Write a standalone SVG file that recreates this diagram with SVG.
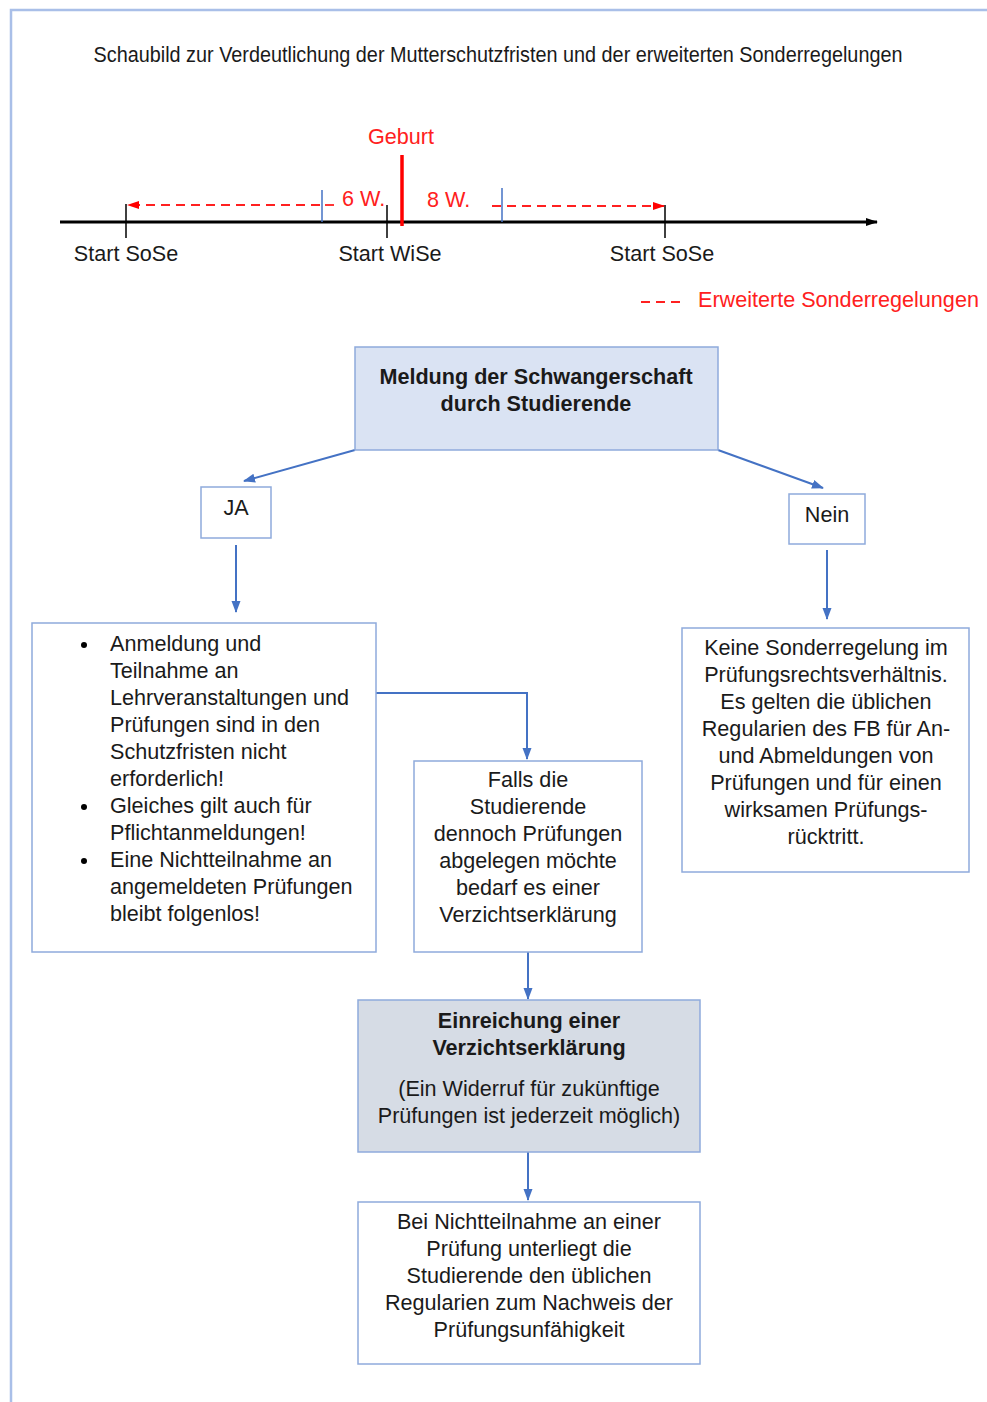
<svg xmlns="http://www.w3.org/2000/svg" width="987" height="1402" viewBox="0 0 987 1402">
<defs>
<marker id="ab" markerWidth="12" markerHeight="12" refX="11" refY="6" orient="auto" markerUnits="userSpaceOnUse"><path d="M0,1.5 L12,6 L0,10.5 z" fill="#4472c4"/></marker>
<marker id="ar" markerWidth="12" markerHeight="10" refX="11" refY="5" orient="auto" markerUnits="userSpaceOnUse"><path d="M0,1 L12,5 L0,9 z" fill="#ff0000"/></marker>
<marker id="ak" markerWidth="12" markerHeight="10" refX="11" refY="5" orient="auto" markerUnits="userSpaceOnUse"><path d="M0,1 L12,5 L0,9 z" fill="#000"/></marker>
<style>
text{font-family:"Liberation Sans",Arial,sans-serif;font-size:21.6px;fill:#1a1a1a}
.c{text-anchor:middle}
.b{font-weight:bold}
.r{fill:#ff2020}
.box{fill:#fff;stroke:#8faadc;stroke-width:1.5}
.con{stroke:#4472c4;stroke-width:2;fill:none}
</style>
</defs>
<g id="frame"><path d="M11,1402 V10 H987" fill="none" stroke="#a9bfe8" stroke-width="2.5"/></g>
<text id="title" x="498" y="62" class="c" font-size="18" textLength="809" lengthAdjust="spacingAndGlyphs">Schaubild zur Verdeutlichung der Mutterschutzfristen und der erweiterten Sonderregelungen</text>
<g id="timeline">
<line x1="60" y1="222" x2="877" y2="222" stroke="#000" stroke-width="3" marker-end="url(#ak)"/>
<line x1="126" y1="204" x2="126" y2="238" stroke="#000" stroke-width="1.5"/>
<line x1="387" y1="205" x2="387" y2="238" stroke="#000" stroke-width="1.5"/>
<line x1="665" y1="205" x2="665" y2="238" stroke="#000" stroke-width="1.5"/>
<line x1="322" y1="190" x2="322" y2="222" stroke="#4472c4" stroke-width="1.5"/>
<line x1="502" y1="188" x2="502" y2="222" stroke="#4472c4" stroke-width="1.5"/>
<line x1="402" y1="155" x2="402" y2="226" stroke="#ff0000" stroke-width="3.5"/>
<line x1="320" y1="205" x2="128" y2="205" stroke="#ff2020" stroke-width="1.8" stroke-dasharray="9,6" marker-end="url(#ar)"/>
<line x1="325" y1="205" x2="334" y2="205" stroke="#ff2020" stroke-width="1.8"/>
<line x1="492" y1="206" x2="664" y2="206" stroke="#ff2020" stroke-width="1.8" stroke-dasharray="9,6" marker-end="url(#ar)"/>
<text x="401" y="144" class="c r">Geburt</text>
<text x="342" y="206" class="r">6 W.</text>
<text x="427" y="207" class="r">8 W.</text>
<text x="126" y="261" class="c">Start SoSe</text>
<text x="390" y="261" class="c">Start WiSe</text>
<text x="662" y="261" class="c">Start SoSe</text>
<line x1="641" y1="302" x2="684" y2="302" stroke="#ff2020" stroke-width="1.8" stroke-dasharray="9,6"/>
<text x="698" y="307" class="r">Erweiterte Sonderregelungen</text>
</g>
<g id="connectors">
<line x1="355" y1="450" x2="244" y2="481" class="con" marker-end="url(#ab)"/>
<line x1="718" y1="450" x2="823" y2="488" class="con" marker-end="url(#ab)"/>
<line x1="236" y1="545" x2="236" y2="612" class="con" marker-end="url(#ab)"/>
<line x1="827" y1="550" x2="827" y2="619" class="con" marker-end="url(#ab)"/>
<path d="M376,693 H527 V759" class="con" marker-end="url(#ab)"/>
<line x1="528" y1="952" x2="528" y2="999" class="con" marker-end="url(#ab)"/>
<line x1="528" y1="1152" x2="528" y2="1200" class="con" marker-end="url(#ab)"/>
</g>
<g id="n-meldung">
<rect x="355" y="347" width="363" height="103" fill="#dae3f3" stroke="#8faadc" stroke-width="1.5"/>
<text x="536" y="384" class="c b">Meldung der Schwangerschaft</text>
<text x="536" y="411" class="c b">durch Studierende</text>
</g>
<g id="n-ja"><rect x="201" y="487" width="70" height="51" class="box"/><text x="236" y="515" class="c">JA</text></g>
<g id="n-nein"><rect x="789" y="494" width="76" height="50" class="box"/><text x="827" y="522" class="c">Nein</text></g>
<g id="n-liste">
<rect x="32" y="623" width="344" height="329" class="box"/>
<circle cx="84" cy="645" r="3" fill="#000"/>
<circle cx="84" cy="807" r="3" fill="#000"/>
<circle cx="84" cy="861" r="3" fill="#000"/>
<text x="110" y="651">Anmeldung und</text>
<text x="110" y="678">Teilnahme an</text>
<text x="110" y="705">Lehrveranstaltungen und</text>
<text x="110" y="732">Prüfungen sind in den</text>
<text x="110" y="759">Schutzfristen nicht</text>
<text x="110" y="786">erforderlich!</text>
<text x="110" y="813">Gleiches gilt auch für</text>
<text x="110" y="840">Pflichtanmeldungen!</text>
<text x="110" y="867">Eine Nichtteilnahme an</text>
<text x="110" y="894">angemeldeten Prüfungen</text>
<text x="110" y="921">bleibt folgenlos!</text>
</g>
<g id="n-falls">
<rect x="414" y="761" width="228" height="191" class="box"/>
<text x="528" y="787" class="c">Falls die</text>
<text x="528" y="814" class="c">Studierende</text>
<text x="528" y="841" class="c">dennoch Prüfungen</text>
<text x="528" y="868" class="c">abgelegen möchte</text>
<text x="528" y="895" class="c">bedarf es einer</text>
<text x="528" y="922" class="c">Verzichtserklärung</text>
</g>
<g id="n-keine">
<rect x="682" y="628" width="287" height="244" class="box"/>
<text x="826" y="655" class="c">Keine Sonderregelung im</text>
<text x="826" y="682" class="c">Prüfungsrechtsverhältnis.</text>
<text x="826" y="709" class="c">Es gelten die üblichen</text>
<text x="826" y="736" class="c">Regularien des FB für An-</text>
<text x="826" y="763" class="c">und Abmeldungen von</text>
<text x="826" y="790" class="c">Prüfungen und für einen</text>
<text x="826" y="817" class="c">wirksamen Prüfungs-</text>
<text x="826" y="844" class="c">rücktritt.</text>
</g>
<g id="n-einreichung">
<rect x="358" y="1000" width="342" height="152" fill="#d6dce5" stroke="#8faadc" stroke-width="1.5"/>
<text x="529" y="1028" class="c b">Einreichung einer</text>
<text x="529" y="1055" class="c b">Verzichtserklärung</text>
<text x="529" y="1096" class="c">(Ein Widerruf für zukünftige</text>
<text x="529" y="1123" class="c">Prüfungen ist jederzeit möglich)</text>
</g>
<g id="n-nichtteilnahme">
<rect x="358" y="1202" width="342" height="162" class="box"/>
<text x="529" y="1229" class="c">Bei Nichtteilnahme an einer</text>
<text x="529" y="1256" class="c">Prüfung unterliegt die</text>
<text x="529" y="1283" class="c">Studierende den üblichen</text>
<text x="529" y="1310" class="c">Regularien zum Nachweis der</text>
<text x="529" y="1337" class="c">Prüfungsunfähigkeit</text>
</g>
</svg>
